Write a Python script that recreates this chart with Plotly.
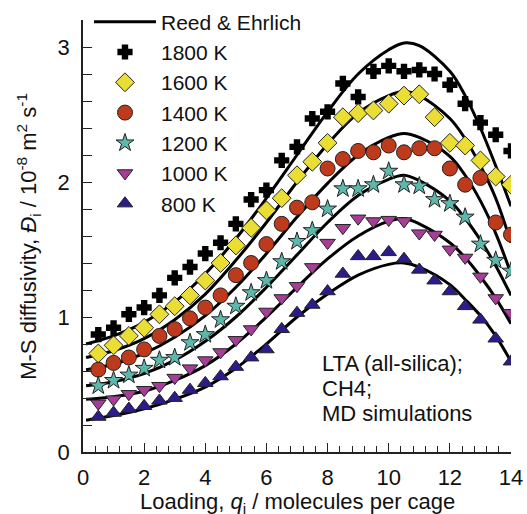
import plotly.graph_objects as go

# Loading, molecules per cage (MD simulation points)
q_md = [0.5, 1.0, 1.5, 2.0, 2.5, 3.0, 3.5, 4.0, 4.5, 5.0, 5.5, 6.0, 6.5, 7.0,
        7.5, 8.0, 8.5, 9.0, 9.5, 10.0, 10.5, 11.0, 11.5, 12.0, 12.5, 13.0, 13.5, 14.0]

# M-S diffusivities, 10^-8 m2/s
d_1800 = [0.87, 0.92, 1.02, 1.07, 1.16, 1.29, 1.37, 1.47, 1.55, 1.69, 1.87, 1.94, 2.16, 2.26,
          2.47, 2.52, 2.73, 2.63, 2.82, 2.86, 2.82, 2.83, 2.80, 2.72, 2.58, 2.44, 2.35, 2.23]
d_1600 = [0.73, 0.79, 0.86, 0.92, 1.02, 1.08, 1.16, 1.27, 1.40, 1.53, 1.66, 1.79, 1.88, 2.05,
          2.15, 2.29, 2.48, 2.51, 2.53, 2.58, 2.64, 2.65, 2.48, 2.29, 2.27, 2.16, 2.04, 1.98]
d_1400 = [0.61, 0.66, 0.70, 0.76, 0.86, 0.91, 0.99, 1.07, 1.16, 1.31, 1.40, 1.54, 1.69, 1.81,
          1.85, 2.10, 2.17, 2.23, 2.22, 2.27, 2.22, 2.25, 2.25, 2.10, 1.98, 2.03, 1.70, 1.61]
d_1200 = [0.49, 0.53, 0.57, 0.62, 0.68, 0.70, 0.81, 0.87, 0.98, 1.08, 1.18, 1.27, 1.41, 1.56,
          1.64, 1.80, 1.95, 1.95, 1.98, 2.08, 1.98, 1.97, 1.87, 1.84, 1.74, 1.54, 1.42, 1.34]
d_1000 = [0.36, 0.39, 0.43, 0.46, 0.49, 0.55, 0.62, 0.68, 0.74, 0.83, 0.91, 1.04, 1.14, 1.23,
          1.37, 1.55, 1.66, 1.73, 1.71, 1.72, 1.71, 1.62, 1.61, 1.50, 1.44, 1.30, 1.14, 1.03]
d_800 = [0.26, 0.29, 0.32, 0.34, 0.38, 0.40, 0.46, 0.51, 0.56, 0.63, 0.70, 0.76, 0.91, 1.03,
         1.09, 1.19, 1.32, 1.45, 1.45, 1.48, 1.43, 1.35, 1.27, 1.19, 1.08, 0.98, 0.84, 0.67]

# Reed & Ehrlich model curves
q_re = [0.1, 1, 2, 3, 4, 5, 6, 7, 8, 9, 10, 10.5, 11, 12, 12.5, 13, 13.5, 14]
re_1800 = [0.80, 0.86, 0.96, 1.11, 1.32, 1.58, 1.88, 2.20, 2.52, 2.80, 2.98, 3.03, 3.01, 2.82, 2.64, 2.40, 2.12, 1.82]
re_1600 = [0.70, 0.75, 0.84, 0.98, 1.17, 1.42, 1.70, 2.00, 2.28, 2.51, 2.64, 2.67, 2.64, 2.47, 2.32, 2.12, 1.88, 1.55]
re_1400 = [0.61, 0.65, 0.73, 0.85, 1.01, 1.22, 1.47, 1.74, 1.99, 2.20, 2.33, 2.36, 2.33, 2.19, 2.05, 1.86, 1.62, 1.32]
re_1200 = [0.49, 0.52, 0.58, 0.68, 0.82, 1.00, 1.22, 1.46, 1.70, 1.90, 2.02, 2.05, 2.01, 1.86, 1.73, 1.57, 1.38, 1.16]
re_1000 = [0.39, 0.41, 0.45, 0.53, 0.64, 0.80, 1.00, 1.22, 1.43, 1.60, 1.71, 1.73, 1.69, 1.55, 1.44, 1.30, 1.14, 0.95]
re_800 = [0.235, 0.27, 0.32, 0.39, 0.48, 0.62, 0.80, 1.00, 1.17, 1.31, 1.39, 1.40, 1.37, 1.24, 1.13, 1.01, 0.86, 0.67]

labels = ["1800 K", "1600 K", "1400 K", "1200 K", "1000 K", "800 K"]
md_sets = [d_1800, d_1600, d_1400, d_1200, d_1000, d_800]
re_sets = [re_1800, re_1600, re_1400, re_1200, re_1000, re_800]
symbols = ["cross", "diamond", "circle", "star", "triangle-down", "triangle-up"]
sizes = [11, 14.5, 15, 13.5, 13.5, 13.5]
colors = ["#000000", "#EADD33", "#BD3A1C", "#5DB7AA", "#A63E98", "#2C1B8C"]
outline_w = [2, 1, 1, 1, 1, 1]
outline_c = ["#000000", "#222222", "#222222", "#222222", "#222222", "#222222"]

FONT = "Liberation Sans, Arial, sans-serif"
AX = "#222222"

fig = go.Figure()

for i, ys in enumerate(re_sets):
    fig.add_trace(go.Scatter(
        x=q_re, y=ys, mode="lines",
        line=dict(color="black", width=3, shape="spline", smoothing=1.0),
        name="Reed & Ehrlich", showlegend=(i == 0), legendrank=1, hoverinfo="skip"))

for lab, ys, sym, sz, col, lw, lc in zip(labels, md_sets, symbols, sizes, colors, outline_w, outline_c):
    fig.add_trace(go.Scatter(
        x=q_md, y=ys, mode="markers", name=lab, legendrank=2,
        marker=dict(symbol=sym, size=sz, color=col, line=dict(color=lc, width=lw))))

fig.update_layout(
    width=527, height=514,
    margin=dict(l=83, r=16, t=20, b=62, autoexpand=False),
    paper_bgcolor="white", plot_bgcolor="white",
    font=dict(family=FONT, size=22, color="#111111"),
    showlegend=True,
    legend=dict(x=0.014, y=0.997, yref="container", xanchor="left", yanchor="top",
                bgcolor="rgba(0,0,0,0)", font=dict(size=21), itemwidth=62, tracegroupgap=0),
    xaxis=dict(range=[0, 14], showgrid=False, zeroline=False, showline=True,
               linecolor=AX, linewidth=1.5, ticks="inside", ticklen=9, tickwidth=1.2,
               tickcolor=AX, dtick=2, tick0=0, tickfont=dict(size=22),
               ticklabelstandoff=5,
               minor=dict(ticks="inside", ticklen=6, dtick=0.4, tick0=0, tickcolor=AX,
                          tickwidth=1.2, showgrid=False)),
    yaxis=dict(range=[0, 3.2], showgrid=False, zeroline=False, showline=True,
               linecolor=AX, linewidth=1.5, ticks="inside", ticklen=9, tickwidth=1.2,
               tickcolor=AX, dtick=1, tick0=0, tickfont=dict(size=22),
               ticklabelstandoff=7,
               minor=dict(ticks="inside", ticklen=9, dtick=0.2, tick0=0, tickcolor=AX,
                          tickwidth=1.2, showgrid=False)),
)

fig.add_annotation(
    text="Loading, <i>q</i><sub>i</sub> / molecules per cage",
    xref="paper", yref="paper", x=0.5, y=-0.118, xanchor="center", yanchor="middle",
    showarrow=False, font=dict(size=22))
fig.add_annotation(
    text="M-S diffusivity, <i>Đ</i><sub>i</sub> / 10<sup>-8</sup> m<sup>2</sup> s<sup>-1</sup>",
    xref="paper", yref="paper", x=-0.129, y=0.5, xanchor="center", yanchor="middle",
    textangle=-90, showarrow=False, font=dict(size=22))

# Note in the lower right, one line per annotation
note_lines = ["LTA (all-silica);", "CH4;", "MD simulations"]
note_y = [0.206, 0.148, 0.088]
for txt, yy in zip(note_lines, note_y):
    fig.add_annotation(
        text=txt, xref="paper", yref="paper", x=0.553, y=yy, xanchor="left", yanchor="middle",
        align="left", showarrow=False, font=dict(size=22))

fig.write_html("out.html")
